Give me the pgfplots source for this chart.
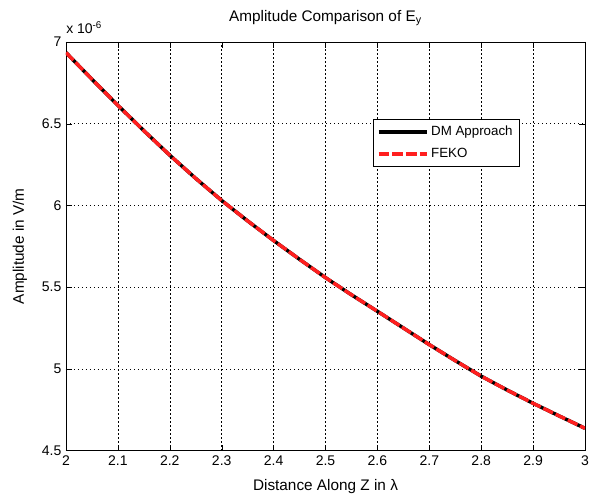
\documentclass[border=0pt]{standalone}
\usepackage{pgfplots}
\pgfplotsset{compat=1.18}
\usepackage{fontspec}
\setmainfont{Liberation Sans}

\pgfplotstableread{
x y
2.00 6.935
2.05 6.772
2.10 6.612
2.15 6.457
2.20 6.307
2.25 6.165
2.30 6.030
2.35 5.905
2.40 5.785
2.45 5.670
2.50 5.558
2.55 5.453
2.60 5.352
2.65 5.250
2.70 5.148
2.75 5.050
2.80 4.955
2.85 4.870
2.90 4.789
2.95 4.712
3.00 4.636
}\amp

\begin{document}
\begin{tikzpicture}
\begin{axis}[
  width=389.25pt, height=306.4pt,
  scale only axis,
  xmin=2, xmax=3, ymin=4.5, ymax=7,
  xtick={2,2.1,...,3.01},
  ytick={4.5,5,...,7},
  xticklabel style={/pgf/number format/fixed,/pgf/number format/precision=1},
  yticklabel style={/pgf/number format/fixed,/pgf/number format/precision=1},
  /pgf/number format/assume math mode=true,
  tick label style={font=\fontsize{10.5}{12}\selectfont},
  label style={font=\fontsize{11.5}{13}\selectfont},
  title style={font=\fontsize{11.5}{13}\selectfont, at={(axis description cs:0.5,1.031)}, anchor=base, inner sep=0pt},
  xlabel style={at={(axis description cs:0.5,-0.088)}, anchor=center},
  ylabel style={at={(axis description cs:-0.0887,0.5)}, anchor=center},
  grid=major,
  major grid style={black, dash pattern=on 1pt off 2pt, line width=0.4pt},
  axis line style={black, line width=0.6pt},
  tick style={black},
  tick align=inside,
  title={Amplitude Comparison of E\textsubscript{y}},
  xlabel={Distance Along Z in λ},
  ylabel={Amplitude in V/m},
  legend style={at={(0.591,0.811)}, anchor=north west, draw=black, fill=white,
    font=\fontsize{10}{12}\selectfont, legend cell align=left, inner sep=3pt, row sep=4pt},
  legend image code/.code={\draw[#1] (0pt,0pt) -- (36pt,0pt);},
  clip mode=individual,
]
\addplot[black, line width=2.6pt] table[x=x,y=y] {\amp};
\addlegendentry{DM Approach}
\addplot[red!88!white, line width=2.6pt, dash pattern=on 8pt off 2.2pt] table[x=x,y=y] {\amp};
\addlegendentry{FEKO}
\node[anchor=base west, font=\fontsize{10.5}{12}\selectfont, inner sep=0pt] at ([yshift=6.5pt]rel axis cs:0,1) {x 10\textsuperscript{-6}};
\end{axis}
\pgfresetboundingbox
\path[use as bounding box] (-49.5pt,-35.6pt) rectangle (399pt,337.9pt);
\end{tikzpicture}
\end{document}
